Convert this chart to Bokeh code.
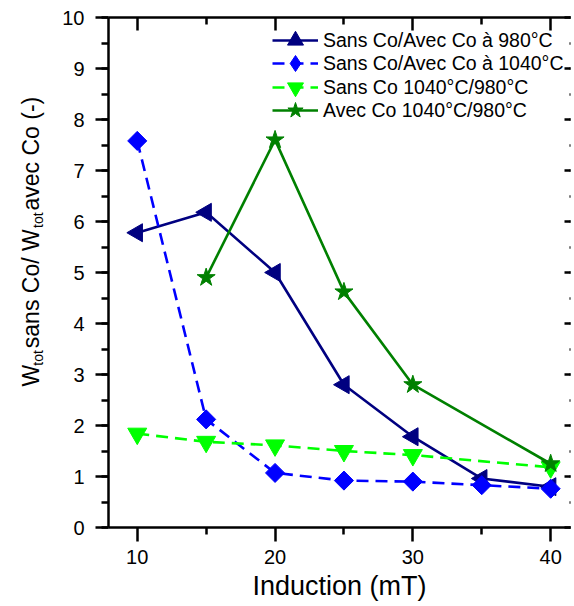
from math import pi
from bokeh.plotting import figure
from bokeh.layouts import row
from bokeh.models import (Range1d, FixedTicker, LinearAxis, SingleIntervalTicker,
                          Label, Legend, LegendItem, CustomLabelingPolicy,
                          ColumnDataSource)
from bokeh.embed import file_html
from bokeh.resources import INLINE

# ---------------- data ----------------
induction_980 = [10, 15, 20, 25, 30, 35, 40]
ratio_980 = [5.78, 6.18, 5.00, 2.80, 1.78, 0.96, 0.80]

induction_1040 = [10, 15, 20, 25, 30, 35, 40]
ratio_1040 = [7.58, 2.12, 1.07, 0.92, 0.90, 0.83, 0.76]

induction_sans = [10, 15, 20, 25, 30, 40]
ratio_sans = [1.84, 1.68, 1.61, 1.50, 1.42, 1.18]

induction_avec = [15, 20, 25, 30, 40]
ratio_avec = [4.90, 7.60, 4.62, 2.80, 1.25]

x_major_ticks = [10, 20, 30, 40]
x_minor_ticks = [15, 25, 35]

labels = ["Sans Co/Avec Co à 980°C", "Sans Co/Avec Co à 1040°C",
          "Sans Co 1040°C/980°C", "Avec Co 1040°C/980°C"]

FONT = "Liberation Sans"
NAVY, BLUE, LIME, GREEN = "#000080", "#0000FF", "#00FF00", "#008000"

X0, X1 = 7.914, 41.44
Y0, Y1 = 0, 10

SIDE_W = 56
p = figure(width=574 - SIDE_W, height=606, output_backend="svg", toolbar_location=None,
           x_range=Range1d(X0, X1), y_range=Range1d(Y0, Y1),
           x_axis_location=None, y_axis_location=None,
           min_border_left=108 - SIDE_W, min_border_right=0, min_border_top=17,
           min_border_bottom=79)
p.outline_line_color = None
p.grid.visible = False
p.background_fill_color = "white"
p.border_fill_color = "white"
# range used only by the legend-key glyph (keeps its points outside the frame)
p.extra_y_ranges = {"legend_key": Range1d(1000, 1001)}

no_labels = CustomLabelingPolicy(code="return new Set()")


def style_axis(ax, labels_visible, tick_in, tick_out, minor_in, minor_out):
    ax.axis_line_width = 2.5
    ax.axis_line_color = "black"
    ax.major_tick_line_width = 2.5
    ax.minor_tick_line_width = 2.5
    ax.major_tick_line_color = "black"
    ax.minor_tick_line_color = "black"
    ax.major_tick_in = tick_in
    ax.major_tick_out = tick_out
    ax.minor_tick_in = minor_in
    ax.minor_tick_out = minor_out
    if labels_visible:
        ax.major_label_text_font = FONT
        ax.major_label_text_font_size = "20px"
        ax.major_label_text_color = "black"
    else:
        ax.major_label_policy = no_labels
        ax.major_label_text_font_size = "1px"
        ax.major_label_standoff = 0


xticker = FixedTicker(ticks=x_major_ticks, minor_ticks=x_minor_ticks)
yticker = SingleIntervalTicker(interval=1, num_minor_ticks=2)

xb = LinearAxis(ticker=xticker)
style_axis(xb, True, 0, 14, 0, 7)
xb.major_label_standoff = 8
xb.axis_label = "Induction (mT)"
xb.axis_label_text_font = FONT
xb.axis_label_text_font_size = "27px"
xb.axis_label_text_font_style = "normal"
xb.axis_label_text_color = "black"
xb.axis_label_standoff = 4
p.add_layout(xb, "below")

yl = LinearAxis(ticker=yticker)
style_axis(yl, True, 0, 13, 0, 7)
yl.major_label_standoff = 11
p.add_layout(yl, "left")

xt = LinearAxis(ticker=xticker)
style_axis(xt, False, 13, 0, 7, 0)
p.add_layout(xt, "above")

yr = LinearAxis(ticker=yticker)
style_axis(yr, False, 6, 0, 1, 0)
yr.axis_line_alpha = 0
p.add_layout(yr, "right")

# ---------------- series ----------------
lw = 2.6
r1l = p.line(induction_980, ratio_980, line_color=NAVY, line_width=lw)
r1m = p.scatter(induction_980, ratio_980, marker="triangle", angle=pi / 2,
                size=18, fill_color=NAVY, line_color=NAVY)

src_1040 = ColumnDataSource(dict(x=induction_1040, y=ratio_1040))
r2l = p.line("x", "y", source=src_1040, line_color=BLUE, line_width=lw, line_dash="12 7")
r2m = p.scatter("x", "y", source=src_1040, marker="square", angle=pi / 4,
                size=13.5, fill_color=BLUE, line_color=BLUE)
# legend key only: an upright diamond (its points fall outside the frame)
r2k = p.scatter("x", "y", source=src_1040, marker="diamond", size=19,
                fill_color=BLUE, line_color=BLUE, y_range_name="legend_key")

r3l = p.line(induction_sans, ratio_sans, line_color=LIME, line_width=lw, line_dash="12 7")
r3m = p.scatter(induction_sans, ratio_sans, marker="inverted_triangle",
                size=19, fill_color=LIME, line_color=LIME)

r4l = p.line(induction_avec, ratio_avec, line_color=GREEN, line_width=lw)
r4m = p.scatter(induction_avec, ratio_avec, marker="star",
                size=19, fill_color=GREEN, line_color=GREEN)

# one legend per row, so the 23 px row pitch can keep large keys
legend_rows = [(labels[0], [r1l, r1m]), (labels[1], [r2l, r2k]),
               (labels[2], [r3l, r3m]), (labels[3], [r4l, r4m])]
row_bottoms = [467, 444, 420, 397]   # screen px from frame bottom
for (lab, rends), yb in zip(legend_rows, row_bottoms):
    lg = Legend(items=[LegendItem(label=lab, renderers=rends, index=0)])
    lg.location = (164, yb)
    lg.border_line_color = None
    lg.background_fill_alpha = 0
    lg.padding = 0
    lg.margin = 0
    lg.glyph_width = 46
    lg.glyph_height = 40
    lg.label_height = 40
    lg.label_standoff = 5
    lg.label_text_font = FONT
    lg.label_text_font_size = "19.5px"
    lg.label_text_color = "black"
    p.add_layout(lg)

# ---------------- y axis title (with subscripts) in a narrow side panel ----------------
side = figure(width=SIDE_W, height=606, output_backend="svg", toolbar_location=None,
              x_range=Range1d(0, 1), y_range=Range1d(0, 1),
              x_axis_location=None, y_axis_location=None,
              min_border_left=0, min_border_right=0, min_border_top=0, min_border_bottom=0)
side.outline_line_color = None
side.grid.visible = False
side.border_fill_color = "white"
side.background_fill_color = "white"

main_fs, sub_fs = 23, 14
x_base, x_sub = 30, 37          # screen px in the side panel
pieces = [("W", main_fs, False, 0.944), ("tot", sub_fs, True, 1.30),
          (" sans Co/ W", main_fs, False, 5.446), ("tot", sub_fs, True, 1.30),
          (" avec Co (-)", main_fs, False, 5.224)]
ypos = 141                      # screen px above the panel frame bottom
for txt, fs, is_sub, em in pieces:
    side.add_layout(Label(x=x_sub if is_sub else x_base, y=ypos, text=txt,
                          x_units="screen", y_units="screen",
                          angle=pi / 2, text_font=FONT, text_font_size=f"{fs}px",
                          text_color="black", text_align="left",
                          text_baseline="alphabetic"))
    ypos += em * fs * 0.96

layout = row(side, p, spacing=0)
open("out.html", "w").write(file_html(layout, INLINE))
